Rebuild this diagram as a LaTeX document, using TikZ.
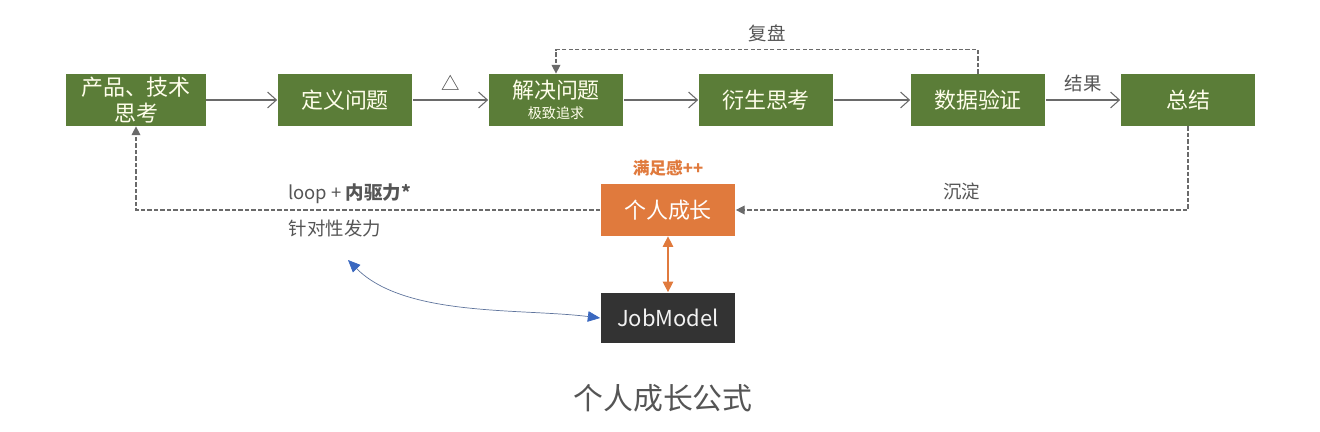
\documentclass[tikz,border=0pt]{standalone}
\usepackage{fontspec}
\setmainfont{Noto Sans CJK SC}
\usepackage{xcolor}
\usetikzlibrary{positioning, arrows.meta}
\definecolor{boxgreen}{HTML}{5B7D38}
\definecolor{boxorange}{HTML}{E07A3D}
\definecolor{boxdark}{HTML}{333333}
\definecolor{linegray}{HTML}{6A6A6A}
\definecolor{textgray}{HTML}{555555}
\definecolor{curveblue}{HTML}{3A68C0}
\tikzset{
  stepbox/.style={fill=boxgreen, text=white!92!yellow, minimum width=2.7cm, minimum height=1.04cm, align=center, inner sep=1pt, font=\fontsize{12.5}{15}\selectfont},
  growbox/.style={stepbox, fill=boxorange, text=white},
  jobbox/.style={stepbox, fill=boxdark, text=white!90!gray, minimum height=1.02cm, font=\fontsize{12.5}{15}\selectfont},
  flow/.style={linegray, semithick, -{Straight Barb[length=5pt, width=9pt]}},
  loopline/.style={linegray, semithick, dashed, dash pattern=on 2.5pt off 1.2pt, -{Triangle[length=5pt, width=5pt]}},
  note/.style={text=textgray, font=\fontsize{10.5}{12}\selectfont},
}
\begin{document}
\begin{tikzpicture}[x=0.02cm, y=-0.02cm]
\useasboundingbox (0,0) rectangle (1320,432);
% main chain
\node[stepbox, minimum width=2.8cm] (think) at (136,100) {产品、技术\\思考};
\node[stepbox] (define) at (345,100) {定义问题};
\node[stepbox] (solve) at (556,100) {解决问题\\[-4pt]{\fontsize{8}{9}\selectfont 极致追求}};
\node[stepbox] (derive) at (766,100) {衍生思考};
\node[stepbox] (verify) at (978,100) {数据验证};
\node[stepbox] (summary) at (1188,100) {总结};
\draw[flow] (think) -- (define);
\draw[flow] (define) -- node[above=2pt, note, text=black!75] {△} (solve);
\draw[flow] (solve) -- (derive);
\draw[flow] (derive) -- (verify);
\draw[flow] (verify) -- node[above=1pt, note] {结果} (summary);
% growth
\node[growbox] (growth) at (668,210) {个人成长};
\node[above=1pt of growth, text=boxorange, font=\bfseries\fontsize{9.5}{11}\selectfont] (joy) {满足感++};
\node[jobbox] (job) at (668,318) {JobModel};
\coordinate (focus) at (348,260);
% loops
\draw[loopline] (verify.north) -- ++(0,-24) -| node[pos=0.25, above=1pt, note] {复盘} (solve.north);
\draw[loopline] (summary.south) |- node[pos=0.75, above=2pt, note] {沉淀} (growth.east);
\draw[loopline] (growth.west) -| node[pos=0.27, above=0pt, note] {loop + \textbf{内驱力*}} (think.south);
\node[note] (aim) at (335,228) {针对性发力};
\draw[boxorange, semithick, {Triangle[length=6pt, width=6pt]}-{Triangle[length=6pt, width=6pt]}] (growth) -- (job);
\draw[curveblue!45!gray, thin, {Triangle[length=7pt, width=6pt, color=curveblue]}-{Triangle[length=7pt, width=6pt, color=curveblue]}] (focus) to[out=-45, in=173, looseness=0.8] (job.west);
% caption
\node[text=textgray, font=\fontsize{17}{20}\selectfont] (title) at (663,398) {个人成长公式};
\end{tikzpicture}
\end{document}
